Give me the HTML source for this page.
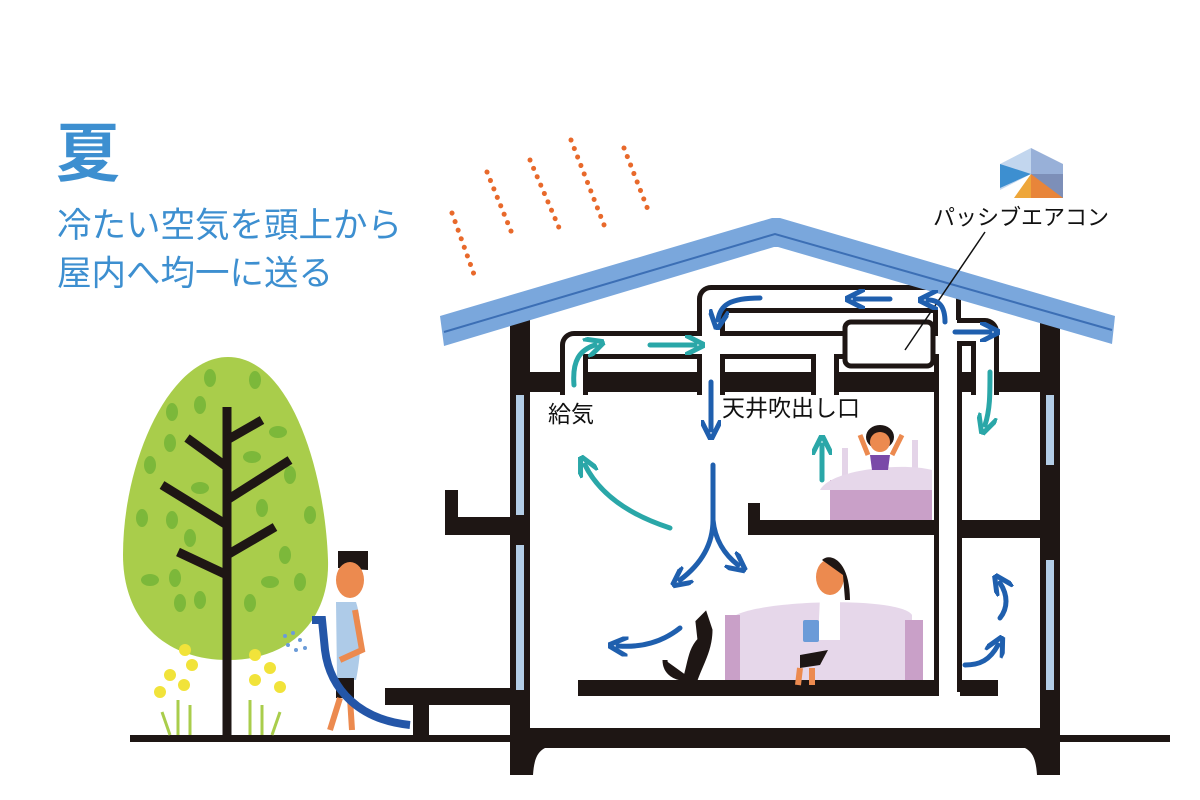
<!DOCTYPE html>
<html><head><meta charset="utf-8"><style>
html,body{margin:0;padding:0;background:#fff;width:1200px;height:800px;overflow:hidden}
svg{display:block}
text{font-family:"Liberation Sans","Noto Sans CJK JP",sans-serif}
</style></head><body>
<svg width="1200" height="800" viewBox="0 0 1200 800" xmlns="http://www.w3.org/2000/svg">
<defs>
<marker id="mb" viewBox="0 0 10 10" refX="5" refY="5" markerWidth="4" markerHeight="4" orient="auto"><path d="M0,0 L10,5 L0,10" fill="none" stroke="#1f5fae" stroke-width="2.5"/></marker>
<marker id="mt" viewBox="0 0 10 10" refX="5" refY="5" markerWidth="4" markerHeight="4" orient="auto"><path d="M0,0 L10,5 L0,10" fill="none" stroke="#2aa7a8" stroke-width="2.5"/></marker>
</defs>
<!-- title -->
<text x="56" y="176" font-size="64" font-weight="bold" fill="#3d8fd0">夏</text>
<text x="57" y="237" font-size="34.5" fill="#3d8fd0">冷たい空気を頭上から</text>
<text x="57" y="285" font-size="34.5" fill="#3d8fd0">屋内へ均一に送る</text>

<!-- sun dots -->
<g stroke="#e8692b" stroke-width="5" stroke-linecap="round" stroke-dasharray="0.1 9">
<line x1="452" y1="213" x2="476" y2="280"/>
<line x1="487" y1="172" x2="513" y2="236"/>
<line x1="530" y1="160" x2="560" y2="230"/>
<line x1="571" y1="140" x2="606" y2="230"/>
<line x1="624" y1="148" x2="650" y2="215"/>
</g>

<!-- logo -->
<g transform="translate(1000,148)">
<polygon points="0,16 31,0 31,26 0,42" fill="#c2d6ee"/>
<polygon points="31,0 63,16 63,26 31,26" fill="#98b0d8"/>
<polygon points="0,16 31,26 0,40" fill="#3d8fd0"/>
<polygon points="31,26 63,26 63,50 47,50" fill="#7d8fb8"/>
<polygon points="31,26 14,50 31,50" fill="#eea63a"/>
<polygon points="31,26 31,50 63,50" fill="#e8853a"/>
</g>
<text x="933" y="225" font-size="22" fill="#111">パッシブエアコン</text>

<!-- ground -->
<rect x="130" y="735" width="1040" height="7" fill="#1e1614"/>

<!-- tree -->
<path d="M228,357 C290,357 325,470 328,560 C330,620 290,660 228,660 C165,660 123,620 123,555 C123,460 170,357 228,357Z" fill="#a9cd4b"/>
<g fill="#7cb83a">
<ellipse cx="210" cy="378" rx="6" ry="9"/><ellipse cx="255" cy="380" rx="6" ry="9"/><ellipse cx="200" cy="405" rx="6" ry="9"/><ellipse cx="172" cy="412" rx="6" ry="9"/><ellipse cx="278" cy="432" rx="9" ry="6"/><ellipse cx="170" cy="443" rx="6" ry="9"/><ellipse cx="252" cy="457" rx="9" ry="6"/><ellipse cx="150" cy="465" rx="6" ry="9"/><ellipse cx="290" cy="475" rx="6" ry="9"/><ellipse cx="200" cy="488" rx="9" ry="6"/><ellipse cx="262" cy="508" rx="6" ry="9"/><ellipse cx="142" cy="518" rx="6" ry="9"/><ellipse cx="172" cy="520" rx="6" ry="9"/><ellipse cx="310" cy="515" rx="6" ry="9"/><ellipse cx="190" cy="538" rx="6" ry="9"/><ellipse cx="285" cy="555" rx="6" ry="9"/><ellipse cx="150" cy="580" rx="9" ry="6"/><ellipse cx="175" cy="578" rx="6" ry="9"/><ellipse cx="270" cy="582" rx="9" ry="6"/><ellipse cx="300" cy="582" rx="6" ry="9"/><ellipse cx="180" cy="603" rx="6" ry="9"/><ellipse cx="200" cy="600" rx="6" ry="9"/><ellipse cx="250" cy="603" rx="6" ry="9"/>
</g>
<g stroke="#1e1614" stroke-width="9" stroke-linecap="butt" fill="none">
<line x1="227" y1="407" x2="227" y2="737"/>
<line x1="227" y1="467" x2="187" y2="438"/><line x1="227" y1="440" x2="262" y2="420"/>
<line x1="227" y1="525" x2="162" y2="485"/><line x1="227" y1="500" x2="290" y2="460"/>
<line x1="227" y1="575" x2="178" y2="552"/><line x1="227" y1="555" x2="275" y2="527"/>
</g>
<!-- flowers -->
<g fill="#f1e33a">
<circle cx="185" cy="650" r="6"/><circle cx="192" cy="665" r="6"/><circle cx="170" cy="675" r="6"/><circle cx="184" cy="685" r="6"/><circle cx="160" cy="692" r="6"/>
<circle cx="255" cy="655" r="6"/><circle cx="270" cy="668" r="6"/><circle cx="255" cy="680" r="6"/><circle cx="280" cy="687" r="6"/>
</g>
<g stroke="#a9cd4b" stroke-width="3">
<line x1="178" y1="700" x2="178" y2="735"/><line x1="190" y1="705" x2="190" y2="735"/><line x1="162" y1="712" x2="170" y2="735"/>
<line x1="250" y1="700" x2="250" y2="735"/><line x1="262" y1="705" x2="262" y2="735"/><line x1="280" y1="712" x2="272" y2="735"/>
</g>
<!-- boy -->
<g>
<path d="M338,551 L368,551 L368,570 L338,568Z" fill="#1e1614"/>
<ellipse cx="350" cy="580" rx="14" ry="18" fill="#ec8a4f"/>
<path d="M336,602 L356,602 C362,620 362,650 356,680 L337,678Z" fill="#aecbe8"/>
<path d="M355,610 L362,650 L340,660" fill="none" stroke="#ec8a4f" stroke-width="6"/>
<rect x="336" y="678" width="18" height="20" fill="#1e1614"/>
<path d="M340,698 L330,730 M350,698 L352,730" stroke="#ec8a4f" stroke-width="6"/>
<path d="M312,620 L322,620 L325,650 C330,690 360,720 410,725" fill="none" stroke="#2456a8" stroke-width="8"/>
<g fill="#6b9bd8"><circle cx="285" cy="636" r="2"/><circle cx="293" cy="633" r="2"/><circle cx="300" cy="640" r="2"/><circle cx="288" cy="645" r="2"/><circle cx="296" cy="650" r="2"/><circle cx="305" cy="648" r="2"/></g>
</g>

<!-- porch/deck -->
<g fill="#1e1614">
<rect x="445" y="490" width="13" height="40" />
<rect x="445" y="517" width="70" height="18"/>
<rect x="385" y="688" width="130" height="17"/>
<rect x="413" y="700" width="16" height="40"/>
</g>

<!-- walls -->
<g fill="#1e1614">
<rect x="510" y="318" width="20" height="457"/>
<rect x="1040" y="318" width="20" height="457"/>
<rect x="510" y="372" width="550" height="20"/>
<rect x="510" y="728" width="550" height="20"/>
<path d="M530,748 L545,748 C537,752 534,760 533,775 L530,775Z"/>
<path d="M1040,748 L1025,748 C1033,752 1036,760 1037,775 L1040,775Z"/>
<rect x="748" y="503" width="12" height="32"/>
<rect x="748" y="520" width="195" height="15"/>
<rect x="960" y="520" width="82" height="18"/>
<rect x="578" y="680" width="365" height="16"/>
<rect x="960" y="680" width="38" height="16"/>
</g>
<!-- windows -->
<g fill="#b3cde6">
<rect x="516" y="395" width="8" height="120"/><rect x="516" y="545" width="8" height="145"/>
<rect x="1046" y="395" width="8" height="70"/><rect x="1046" y="560" width="8" height="130"/>
</g>

<!-- ducts -->
<g fill="none" stroke-linejoin="round">
<path d="M711,347 L711,299 L947,299 L947,340 M948,332 L985,332 L985,395" stroke="#1e1614" stroke-width="28"/>
<path d="M574,395 L574,345 L945,345 M711,345 L711,395 M825,345 L825,395 M948,320 L948,692" stroke="#1e1614" stroke-width="28"/>
<path d="M711,347 L711,299 L947,299 L947,340 M948,332 L985,332 L985,395" stroke="#fff" stroke-width="18"/>
<path d="M574,398 L574,345 L945,345 M711,345 L711,398 M825,345 L825,398 M948,320 L948,700" stroke="#fff" stroke-width="18"/>
</g>
<rect x="845" y="322" width="88" height="44" rx="6" fill="#fff" stroke="#1e1614" stroke-width="5"/>
<rect x="850" y="330" width="80" height="30" fill="#fff"/>

<!-- roof -->
<path d="M440,316 L772,218 L780,218 L1115,316 L1112,344 L778,247 L774,247 L444,346Z" fill="#7aa7dc"/>
<path d="M444,332 L775,234 L1112,330" fill="none" stroke="#3c6fb5" stroke-width="2"/>
<line x1="985" y1="232" x2="905" y2="350" stroke="#111" stroke-width="1.5"/>

<!-- labels -->
<text x="548" y="422" font-size="23" fill="#111">給気</text>
<text x="722" y="416" font-size="23" fill="#111">天井吹出し口</text>

<!-- bedroom -->
<path d="M845,448 L845,480 M915,440 L915,480" stroke="#e4d4e8" stroke-width="6"/>
<rect x="830" y="480" width="102" height="40" fill="#c9a0c8"/>
<path d="M820,490 C830,470 900,462 932,470 L932,490Z" fill="#e6d7ea"/>
<ellipse cx="880" cy="437" rx="14" ry="12" fill="#1e1614"/>
<ellipse cx="880" cy="442" rx="10" ry="10" fill="#ec8a4f"/>
<path d="M870,455 L890,455 L888,470 L872,470Z" fill="#7a4aa8"/>
<path d="M868,455 L860,435 M892,455 L902,435" stroke="#ec8a4f" stroke-width="5"/>

<!-- living -->
<path d="M730,620 C740,600 900,595 912,615 L912,680 L730,680Z" fill="#e6d7ea"/>
<rect x="725" y="615" width="15" height="65" fill="#c9a0c8"/>
<rect x="905" y="620" width="18" height="60" fill="#c9a0c8"/>
<ellipse cx="830" cy="577" rx="14" ry="18" fill="#ec8a4f"/>
<path d="M822,560 C830,552 850,560 850,600 L845,600 L843,575Z" fill="#1e1614"/>
<path d="M820,597 L840,597 L840,640 L818,640Z" fill="#fff"/>
<rect x="803" y="620" width="16" height="22" rx="2" fill="#6b9bd8"/>
<path d="M800,655 L828,650 L820,665 L800,668Z" fill="#1e1614"/>
<path d="M800,668 L798,685 M812,668 L812,685" stroke="#ec8a4f" stroke-width="6"/>
<!-- cat -->
<path d="M705,615 L710,630 C710,650 700,665 695,680 L685,680 C690,665 690,650 700,640 L698,622Z M690,678 C675,680 665,672 665,660" fill="#1e1614" stroke="#1e1614" stroke-width="5"/>

<!-- arrows -->
<g fill="none" stroke-width="5" stroke-linecap="round">
<path d="M574,385 C572,360 580,350 595,345" stroke="#2aa7a8" marker-end="url(#mt)"/>
<path d="M650,345 L695,345" stroke="#2aa7a8" marker-end="url(#mt)"/>
<path d="M760,298 C730,298 720,305 718,320" stroke="#1f5fae" marker-end="url(#mb)"/>
<path d="M890,299 L855,299" stroke="#1f5fae" marker-end="url(#mb)"/>
<path d="M945,322 C945,305 938,300 928,300" stroke="#1f5fae" marker-end="url(#mb)"/>
<path d="M955,332 L990,332" stroke="#1f5fae" marker-end="url(#mb)"/>
<path d="M990,372 C990,395 990,410 985,425" stroke="#2aa7a8" marker-end="url(#mt)"/>
<path d="M711,382 L711,430" stroke="#1f5fae" marker-end="url(#mb)"/>
<path d="M822,480 L822,445" stroke="#2aa7a8" marker-end="url(#mt)"/>
<path d="M670,528 C630,515 600,495 585,465" stroke="#2aa7a8" marker-end="url(#mt)"/>
<path d="M713,465 L713,520 C713,545 700,565 680,580" stroke="#1f5fae" marker-end="url(#mb)"/>
<path d="M713,520 C715,540 725,555 738,565" stroke="#1f5fae" marker-end="url(#mb)"/>
<path d="M680,628 C665,640 645,648 618,646" stroke="#1f5fae" marker-end="url(#mb)"/>
<path d="M1000,618 C1008,608 1008,595 1000,583" stroke="#1f5fae" marker-end="url(#mb)"/>
<path d="M965,665 C980,665 990,660 998,645" stroke="#1f5fae" marker-end="url(#mb)"/>
</g>
</svg>
</body></html>
